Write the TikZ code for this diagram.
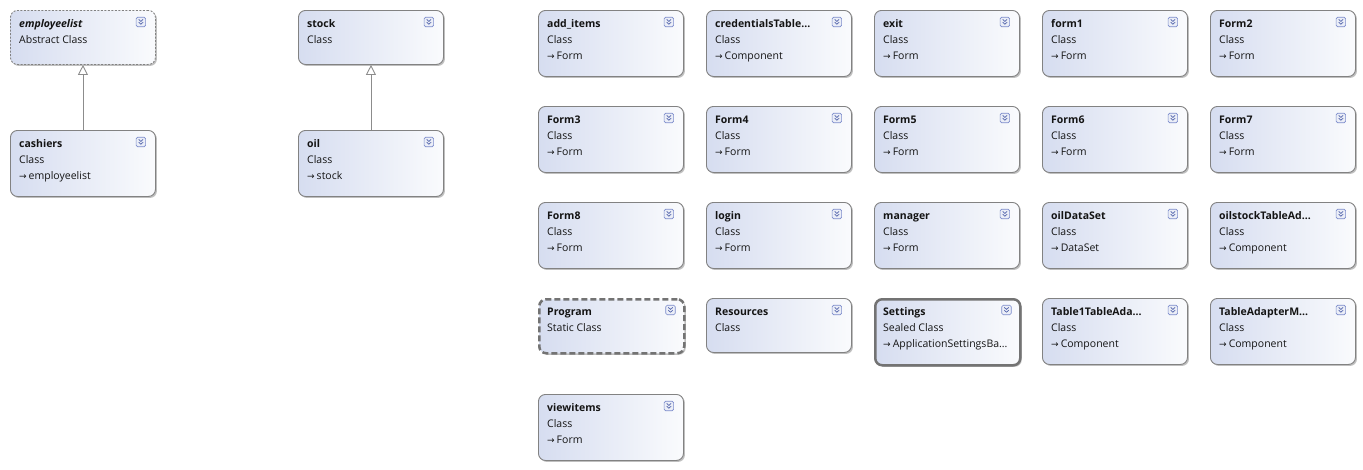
\documentclass[tikz,border=0pt]{standalone}
\usepackage{fontspec}
\setmainfont{Open Sans}
\newfontfamily\symfont{DejaVu Sans}
\usetikzlibrary{arrows.meta,shadows,calc}
\definecolor{boxleft}{RGB}{214,221,240}
\definecolor{boxright}{RGB}{250,251,253}
\definecolor{boxborder}{RGB}{130,130,130}
\definecolor{iconblue}{RGB}{90,110,190}
\definecolor{txt}{RGB}{20,20,20}
\tikzset{
  cls/.style={draw=boxborder, line width=0.9pt, rounded corners=7pt,
    left color=boxleft, right color=boxright, anchor=north west,
    minimum width=145pt, minimum height=66pt, inner sep=0pt,
    drop shadow={shadow xshift=1.5pt, shadow yshift=-1.5pt, opacity=0.25, fill=black}},
  short/.style={minimum height=54pt},
  dashedcls/.style={dash pattern=on 2pt off 1.5pt, draw=boxborder},
  staticcls/.style={draw=black!55, line width=2.5pt, dash pattern=on 6pt off 3pt},
  sealedcls/.style={draw=black!55, line width=2.5pt},
  ttl/.style={anchor=base west, inner sep=0pt, font=\fontsize{10.5}{12}\selectfont\bfseries, text=txt},
  sub/.style={anchor=base west, inner sep=0pt, font=\fontsize{10.5}{12}\selectfont, text=txt},
  icon/.style={draw=iconblue!80, fill=iconblue!12, rounded corners=1.5pt, line width=0.6pt,
    minimum width=9.5pt, minimum height=9.5pt, inner sep=0pt},
  inh/.style={draw=black!45, line width=0.9pt, -{Triangle[open, length=10pt, width=10pt, fill=white]}}
}
\newcommand\clsbox[7]{%
  \node[cls,#4] (#1) at (#2,#3) {};
  \node[ttl] (#1-t) at ($(#1.north west)+(9,17)$) {#5};
  \node[sub] (#1-k) at ($(#1.north west)+(9,33)$) {#6};
  \if\relax\detokenize{#7}\relax\else
  \node[sub] (#1-b) at ($(#1.north west)+(9,49)$) {{\symfont\fontsize{9}{10}\selectfont →}\hspace{2pt}#7};
  \fi
  \node[icon] (#1-i) at ($(#1.north east)+(-15,12)$) {};
  \draw[iconblue!90!black, line width=0.7pt] ($(#1-i.center)+(-2.2,-2.6)$) -- ($(#1-i.center)+(0,-0.6)$) -- ($(#1-i.center)+(2.2,-2.6)$);
  \draw[iconblue!90!black, line width=0.7pt] ($(#1-i.center)+(-2.2,0.2)$) -- ($(#1-i.center)+(0,2.2)$) -- ($(#1-i.center)+(2.2,0.2)$);
}
\begin{document}
\begin{tikzpicture}[x=1pt,y=-1pt]
\useasboundingbox (0,0) rectangle (1363,469);
\clsbox{employeelist}{10}{10}{short,dashedcls}{\itshape employeelist}{Abstract Class}{}
\clsbox{cashiers}{10}{130}{}{cashiers}{Class}{employeelist}
\clsbox{stock}{298}{10}{short}{stock}{Class}{}
\clsbox{oil}{298}{130}{}{oil}{Class}{stock}
\draw[inh] (cashiers.north) -- (employeelist.south);
\draw[inh] (oil.north) -- (stock.south);
% grid
\clsbox{additems}{538}{10}{}{add\_items}{Class}{Form}
\clsbox{cred}{706}{10}{}{credentialsTable...}{Class}{Component}
\clsbox{exit}{874}{10}{}{exit}{Class}{Form}
\clsbox{form1}{1042}{10}{}{form1}{Class}{Form}
\clsbox{Form2}{1210}{10}{}{Form2}{Class}{Form}
\clsbox{Form3}{538}{106}{}{Form3}{Class}{Form}
\clsbox{Form4}{706}{106}{}{Form4}{Class}{Form}
\clsbox{Form5}{874}{106}{}{Form5}{Class}{Form}
\clsbox{Form6}{1042}{106}{}{Form6}{Class}{Form}
\clsbox{Form7}{1210}{106}{}{Form7}{Class}{Form}
\clsbox{Form8}{538}{202}{}{Form8}{Class}{Form}
\clsbox{login}{706}{202}{}{login}{Class}{Form}
\clsbox{manager}{874}{202}{}{manager}{Class}{Form}
\clsbox{oilDataSet}{1042}{202}{}{oilDataSet}{Class}{DataSet}
\clsbox{oilstock}{1210}{202}{}{oilstockTableAd...}{Class}{Component}
\clsbox{Program}{538}{298}{short,staticcls}{Program}{Static Class}{}
\clsbox{Resources}{706}{298}{short}{Resources}{Class}{}
\clsbox{Settings}{874}{298}{sealedcls}{Settings}{Sealed Class}{ApplicationSettingsBa...}
\clsbox{Table1}{1042}{298}{}{Table1TableAda...}{Class}{Component}
\clsbox{TAM}{1210}{298}{}{TableAdapterM...}{Class}{Component}
\clsbox{viewitems}{538}{394}{}{viewitems}{Class}{Form}
\end{tikzpicture}
\end{document}
